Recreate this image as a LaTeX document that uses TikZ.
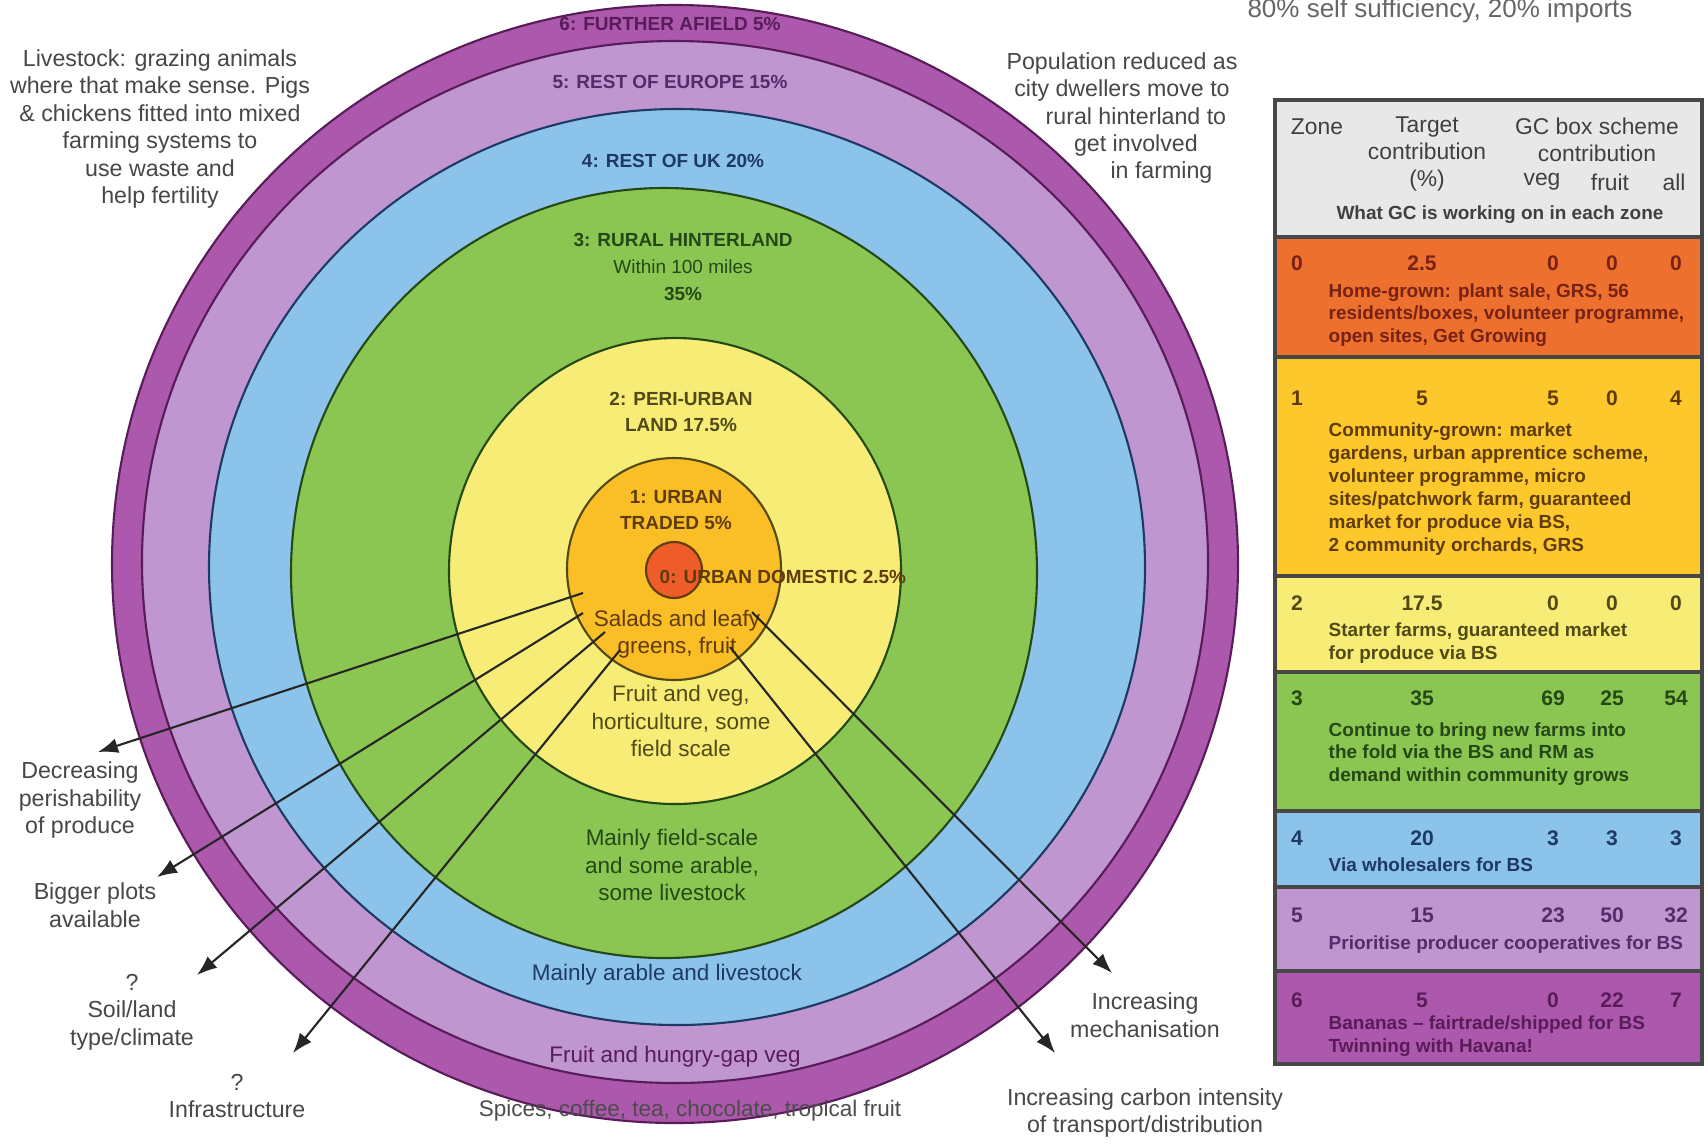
\documentclass[tikz,border=0pt]{standalone}
\usepackage{fontspec}
\setmainfont{Liberation Sans}
\usepackage{tikz}
\usetikzlibrary{arrows.meta}

\definecolor{rsix}{RGB}{172,88,172}
\definecolor{rfive}{RGB}{192,150,208}
\definecolor{rfour}{RGB}{140,195,235}
\definecolor{rthree}{RGB}{140,198,82}
\definecolor{rtwo}{RGB}{246,236,118}
\definecolor{rone}{RGB}{250,190,38}
\definecolor{rzero}{RGB}{238,92,42}
\definecolor{tzero}{RGB}{238,112,46}
\definecolor{tone}{RGB}{252,200,44}
\definecolor{thead}{RGB}{232,232,232}
\definecolor{dksix}{RGB}{88,28,88}
\definecolor{dkfive}{RGB}{84,44,106}
\definecolor{dkfour}{RGB}{30,58,100}
\definecolor{dkthree}{RGB}{36,72,22}
\definecolor{dktwo}{RGB}{82,74,22}
\definecolor{dkone}{RGB}{96,60,10}
\definecolor{dkzero}{RGB}{118,34,20}

\tikzset{
  ring/.style={line width=0.6pt},
  lbl/.style={font=\fontsize{6.6}{7.8}\selectfont,text=black!72,align=center,inner sep=0pt},
  zonecap/.style={font=\bfseries\fontsize{5.4}{7.6}\selectfont,align=center,inner sep=0pt},
  zonetxt/.style={font=\fontsize{6.4}{7.8}\selectfont,align=center,inner sep=0pt},
  rowbox/.style={line width=1pt,draw=black!72},
  tabhd/.style={font=\fontsize{6.5}{7.7}\selectfont,text=black!75,align=center,inner sep=0pt},
  tabnum/.style={font=\bfseries\fontsize{6}{7}\selectfont,inner sep=0pt},
  tabdesc/.style={font=\bfseries\fontsize{5.4}{6.5}\selectfont,align=left,anchor=west,inner sep=0pt},
  arr/.style={line width=0.6pt,black!85,-{Latex[length=2mm,width=1.5mm]}}
}

\begin{document}
\begin{tikzpicture}[x=0.1mm,y=-0.1mm]
  %\draw[step=100,gray,very thin] (0,0) grid (1708,1144);
  \useasboundingbox (0,0) rectangle (1708,1144);
  \fill[white] (0,0) rectangle (1708,1144);

  % food zones
  \draw[ring,draw=dksix,fill=rsix] (675,564) ellipse (563 and 559);
  \draw[ring,draw=dksix,fill=rfive] (675,562) ellipse (533 and 521);
  \draw[ring,draw=dkfour,fill=rfour] (677,567) ellipse (468 and 458);
  \draw[ring,draw=dkthree,fill=rthree] (664,573) ellipse (373 and 385);
  \draw[ring,draw=dkthree,fill=rtwo] (675,571) ellipse (226 and 233);
  \draw[ring,draw=dktwo,fill=rone] (674,569) ellipse (107 and 111);
  \draw[ring,draw=dkone,fill=rzero] (674,570) circle (28);

  \node[zonecap,text=dksix] (zsix) at (670,24) {6: FURTHER AFIELD 5\%};
  \node[zonecap,text=dkfive] (zfive) at (670,82) {5: REST OF EUROPE 15\%};
  \node[zonecap,text=dkfour] (zfour) at (673,161) {4: REST OF UK 20\%};
  \node[zonecap,text=dkthree] (zthree) at (683,267) {3: RURAL HINTERLAND\\\mdseries Within 100 miles\\35\%};
  \node[zonecap,text=dktwo] (ztwo) at (681,412) {2: PERI-URBAN\\LAND 17.5\%};
  \node[zonecap,text=dkone] (zone) at (676,510) {1: URBAN\\TRADED 5\%};
  \node[zonecap,text=dkone,anchor=west] (zzero) at (659,577) {0: URBAN DOMESTIC 2.5\%};

  \node[zonetxt,text=dkone] (salads) at (677,634) {Salads and leafy\\greens, fruit};
  \node[zonetxt,text=dktwo] (fruitveg) at (681,721) {Fruit and veg,\\horticulture, some\\field scale};
  \node[zonetxt,text=dkthree] (fieldscale) at (672,865) {Mainly field-scale\\and some arable,\\some livestock};
  \node[zonetxt,text=dkfour] (arable) at (667,975) {Mainly arable and livestock};
  \node[zonetxt,text=dksix] (hungry) at (675,1057) {Fruit and hungry-gap veg};
  \node[zonetxt,text=black!70] (spices) at (690,1111) {Spices, coffee, tea, chocolate, tropical fruit};

  % notes round the circle
  \node[lbl,text=black!60,font=\fontsize{7.4}{8}\selectfont] (selfsuff) at (1440,11) {80\% self sufficiency, 20\% imports};
  \node[lbl] (livestock) at (160,129) {Livestock: grazing animals\\where that make sense. Pigs\\\& chickens fitted into mixed\\farming systems to\\use waste and\\help fertility};
  \node[lbl] (population) at (1122,118) {Population reduced as\\city dwellers move to\\\hspace*{1.2em}rural hinterland to\\\hspace*{1.2em}get involved\\\hspace*{3.4em}in farming};
  \node[lbl] (perish) at (80,800) {Decreasing\\perishability\\of produce};
  \node[lbl] (plots) at (95,905) {Bigger plots\\available};
  \node[lbl] (soil) at (132,1012) {?\\Soil/land\\type/climate};
  \node[lbl] (infra) at (237,1096) {?\\Infrastructure};
  \node[lbl] (mech) at (1145,1015) {Increasing\\mechanisation};
  \node[lbl] (carbon) at (1145,1113) {Increasing carbon intensity\\of transport/distribution};

  \coordinate (sperish) at (583,593);
  \coordinate (splots) at (583,613);
  \coordinate (ssoil) at (605,632);
  \coordinate (sinfra) at (620,650);
  \coordinate (smech) at (752,612);
  \coordinate (scarbon) at (730,647);
  \coordinate (hperish) at (98,752);
  \coordinate (hplots) at (157,877);
  \coordinate (hsoil) at (197,975);
  \coordinate (hinfra) at (293,1053);
  \coordinate (hmech) at (1112,973);
  \coordinate (hcarbon) at (1055,1053);

  \draw[arr] (sperish) -- (hperish);
  \draw[arr] (splots) -- (hplots);
  \draw[arr] (ssoil) -- (hsoil);
  \draw[arr] (sinfra) -- (hinfra);
  \draw[arr] (smech) -- (hmech);
  \draw[arr] (scarbon) -- (hcarbon);

  % table
  \draw[rowbox,fill=thead] (1275,100) rectangle (1702,237);
  \draw[rowbox,fill=tzero] (1275,237) rectangle (1702,357);
  \draw[rowbox,fill=tone] (1275,357) rectangle (1702,576);
  \draw[rowbox,fill=rtwo] (1275,576) rectangle (1702,672);
  \draw[rowbox,fill=rthree] (1275,672) rectangle (1702,811);
  \draw[rowbox,fill=rfour] (1275,811) rectangle (1702,887);
  \draw[rowbox,fill=rfive] (1275,887) rectangle (1702,971);
  \draw[rowbox,fill=rsix] (1275,971) rectangle (1702,1064);

  \node[tabhd] (hzone) at (1317,127) {Zone};
  \node[tabhd] (htarget) at (1427,154) {Target\\contribution\\(\%)};
  \node[tabhd] (hscheme) at (1597,140) {GC box scheme\\contribution};
  \node[tabhd] (hveg) at (1542,182) {veg};
  \node[tabhd] (hfruit) at (1610,182) {fruit};
  \node[tabhd] (hall) at (1674,182) {all};
  \node[tabhd,font=\bfseries\fontsize{5.4}{6.5}\selectfont] (hwork) at (1500,215) {What GC is working on in each zone};

  \node[tabnum,text=dkzero] (zeroz) at (1297,263) {0};
  \node[tabnum,text=dkzero] (zerot) at (1422,263) {2.5};
  \node[tabnum,text=dkzero] (zerov) at (1553,263) {0};
  \node[tabnum,text=dkzero] (zerof) at (1612,263) {0};
  \node[tabnum,text=dkzero] (zeroa) at (1676,263) {0};
  \node[tabdesc,text=dkzero] (zerod) at (1328,315) {Home-grown: plant sale, GRS, 56\\residents/boxes, volunteer programme,\\open sites, Get Growing};

  \node[tabnum,text=dkone] (onez) at (1297,398) {1};
  \node[tabnum,text=dkone] (onet) at (1422,398) {5};
  \node[tabnum,text=dkone] (onev) at (1553,398) {5};
  \node[tabnum,text=dkone] (onef) at (1612,398) {0};
  \node[tabnum,text=dkone] (onea) at (1676,398) {4};
  \node[tabdesc,text=dkone] (oned) at (1328,489) {Community-grown: market\\gardens, urban apprentice scheme,\\volunteer programme, micro\\sites/patchwork farm, guaranteed\\market for produce via BS,\\2 community orchards, GRS};

  \node[tabnum,text=dktwo] (twoz) at (1297,603) {2};
  \node[tabnum,text=dktwo] (twot) at (1422,603) {17.5};
  \node[tabnum,text=dktwo] (twov) at (1553,603) {0};
  \node[tabnum,text=dktwo] (twof) at (1612,603) {0};
  \node[tabnum,text=dktwo] (twoa) at (1676,603) {0};
  \node[tabdesc,text=dktwo] (twod) at (1328,643) {Starter farms, guaranteed market\\for produce via BS};

  \node[tabnum,text=dkthree] (threez) at (1297,698) {3};
  \node[tabnum,text=dkthree] (threet) at (1422,698) {35};
  \node[tabnum,text=dkthree] (threev) at (1553,698) {69};
  \node[tabnum,text=dkthree] (threef) at (1612,698) {25};
  \node[tabnum,text=dkthree] (threea) at (1676,698) {54};
  \node[tabdesc,text=dkthree] (threed) at (1328,754) {Continue to bring new farms into\\the fold via the BS and RM as\\demand within community grows};

  \node[tabnum,text=dkfour] (fourz) at (1297,838) {4};
  \node[tabnum,text=dkfour] (fourt) at (1422,838) {20};
  \node[tabnum,text=dkfour] (fourv) at (1553,838) {3};
  \node[tabnum,text=dkfour] (fourf) at (1612,838) {3};
  \node[tabnum,text=dkfour] (foura) at (1676,838) {3};
  \node[tabdesc,text=dkfour] (fourd) at (1328,865) {Via wholesalers for BS};

  \node[tabnum,text=dkfive] (fivez) at (1297,915) {5};
  \node[tabnum,text=dkfive] (fivet) at (1422,915) {15};
  \node[tabnum,text=dkfive] (fivev) at (1553,915) {23};
  \node[tabnum,text=dkfive] (fivef) at (1612,915) {50};
  \node[tabnum,text=dkfive] (fivea) at (1676,915) {32};
  \node[tabdesc,text=dkfive] (fived) at (1328,945) {Prioritise producer cooperatives for BS};

  \node[tabnum,text=dksix] (sixz) at (1297,1000) {6};
  \node[tabnum,text=dksix] (sixt) at (1422,1000) {5};
  \node[tabnum,text=dksix] (sixv) at (1553,1000) {0};
  \node[tabnum,text=dksix] (sixf) at (1612,1000) {22};
  \node[tabnum,text=dksix] (sixa) at (1676,1000) {7};
  \node[tabdesc,text=dksix] (sixd) at (1328,1036) {Bananas -- fairtrade/shipped for BS\\Twinning with Havana!};
\end{tikzpicture}
\end{document}
